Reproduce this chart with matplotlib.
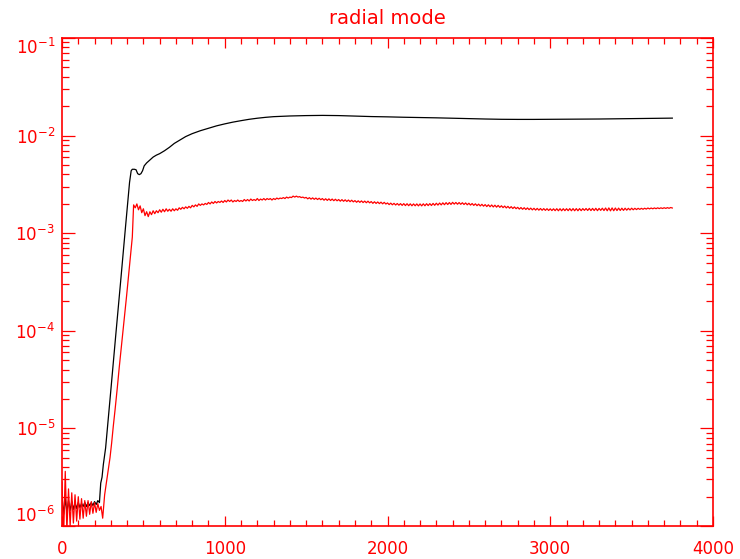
import numpy as np
import matplotlib
matplotlib.use("Agg")
import matplotlib.pyplot as plt
from matplotlib.ticker import MultipleLocator, LogLocator

# values, stored as log10 of the amplitude
black_t = [0, 10, 20, 30, 40, 50, 60, 70, 80, 90, 100, 110, 120, 130, 140, 150,
           160, 170, 180, 190, 200, 210, 220, 230, 238, 246, 254, 268, 300, 330,
           360, 390, 415, 425, 432, 445, 455, 465, 475, 485, 495, 505, 520, 540,
           560, 580, 600, 630, 660, 690, 720, 760, 800, 850, 900, 950, 1000, 1050,
           1100, 1150, 1200, 1250, 1300, 1400, 1500, 1600, 1700, 1800, 1900, 2000,
           2100, 2200, 2300, 2400, 2500, 2600, 2700, 2800, 2900, 3000, 3100, 3200,
           3300, 3400, 3500, 3600, 3700, 3750]
black_log = [-5.70, -5.88, -5.72, -5.86, -5.74, -5.84, -5.75, -5.83, -5.76, -5.82,
             -5.76, -5.81, -5.77, -5.80, -5.76, -5.80, -5.76, -5.79, -5.76, -5.79,
             -5.75, -5.78, -5.74, -5.76, -5.56, -5.50, -5.37, -5.20, -4.61, -4.05,
             -3.50, -2.94, -2.48, -2.36, -2.345, -2.345, -2.35, -2.39, -2.40, -2.39,
             -2.36, -2.31, -2.28, -2.25, -2.22, -2.20, -2.185, -2.155, -2.12, -2.08,
             -2.05, -2.01, -1.98, -1.95, -1.925, -1.90, -1.88, -1.862, -1.847, -1.833,
             -1.822, -1.813, -1.806, -1.799, -1.795, -1.793, -1.795, -1.80, -1.805,
             -1.808, -1.812, -1.815, -1.818, -1.822, -1.826, -1.83, -1.833, -1.834,
             -1.834, -1.833, -1.832, -1.831, -1.83, -1.828, -1.826, -1.824, -1.822,
             -1.821]

red_t_early = [0, 10, 20, 30, 40, 50, 60, 70, 80, 90, 100, 110, 120, 130, 140,
               150, 160, 170, 180, 190, 200, 210, 220, 230, 240, 250, 262, 280,
               295, 305, 315, 326, 340, 352, 375, 397, 415, 432]
red_log_early = [-5.55, -6.10, -5.44, -6.05, -5.62, -6.00, -5.66, -5.97, -5.68,
                 -5.95, -5.70, -5.93, -5.72, -5.92, -5.74, -5.90, -5.74, -5.88,
                 -5.75, -5.87, -5.76, -5.86, -5.77, -5.84, -5.80, -5.92, -5.68,
                 -5.47, -5.30, -5.15, -4.98, -4.81, -4.58, -4.37, -4.00, -3.64,
                 -3.33, -3.04]

# t = 440, 450, ..., 3750
red_t_late = np.arange(440, 3751, 10)
red_log_late = [
    -2.71, -2.74, -2.70, -2.76, -2.72, -2.79,
    -2.75, -2.82, -2.78, -2.83, -2.78, -2.81, -2.77, -2.80, -2.77, -2.79,
    -2.76, -2.785, -2.755, -2.78, -2.75, -2.775, -2.755, -2.775, -2.75, -2.77,
    -2.75, -2.765, -2.74, -2.755, -2.735, -2.75, -2.73, -2.745, -2.725, -2.74,
    -2.715, -2.73, -2.71, -2.725, -2.70, -2.715, -2.70, -2.71, -2.695, -2.705,
    -2.685, -2.70, -2.68, -2.695, -2.675, -2.69, -2.675, -2.685, -2.67, -2.685,
    -2.665, -2.68, -2.66, -2.675, -2.66, -2.68, -2.665, -2.675, -2.66, -2.675,
    -2.665, -2.675, -2.655, -2.67, -2.655, -2.67, -2.65, -2.665, -2.655, -2.665,
    -2.645, -2.665, -2.65, -2.66, -2.645, -2.66, -2.645, -2.655, -2.645, -2.66,
    -2.645, -2.655, -2.64, -2.65, -2.64, -2.645, -2.635, -2.645, -2.63, -2.64,
    -2.63, -2.635, -2.62, -2.63, -2.62, -2.63, -2.625, -2.635, -2.63, -2.64,
    -2.633, -2.648, -2.636, -2.651, -2.638, -2.653, -2.640, -2.655, -2.642, -2.657,
    -2.645, -2.662, -2.647, -2.664, -2.648, -2.665, -2.650, -2.667, -2.652, -2.668,
    -2.655, -2.672, -2.656, -2.673, -2.658, -2.675, -2.660, -2.677, -2.662, -2.679,
    -2.666, -2.683, -2.668, -2.684, -2.669, -2.686, -2.671, -2.688, -2.672, -2.689,
    -2.676, -2.694, -2.678, -2.695, -2.680, -2.697, -2.682, -2.699, -2.684, -2.701,
    -2.690, -2.707, -2.692, -2.709, -2.694, -2.711, -2.696, -2.713, -2.697, -2.715,
    -2.697, -2.717, -2.698, -2.718, -2.699, -2.719, -2.700, -2.719, -2.700, -2.720,
    -2.700, -2.720, -2.699, -2.719, -2.698, -2.717, -2.697, -2.716, -2.695, -2.714,
    -2.693, -2.712, -2.691, -2.710, -2.689, -2.708, -2.687, -2.706, -2.686, -2.705,
    -2.684, -2.702, -2.685, -2.703, -2.686, -2.704, -2.688, -2.706, -2.690, -2.709,
    -2.693, -2.712, -2.696, -2.715, -2.699, -2.718, -2.702, -2.721, -2.704, -2.723,
    -2.707, -2.727, -2.709, -2.729, -2.711, -2.731, -2.713, -2.733, -2.715, -2.735,
    -2.719, -2.738, -2.722, -2.741, -2.725, -2.744, -2.728, -2.747, -2.731, -2.749,
    -2.735, -2.753, -2.737, -2.755, -2.739, -2.757, -2.741, -2.759, -2.743, -2.761,
    -2.745, -2.763, -2.746, -2.764, -2.747, -2.765, -2.748, -2.766, -2.749, -2.767,
    -2.750, -2.768, -2.750, -2.769, -2.749, -2.770, -2.749, -2.770, -2.749, -2.769,
    -2.749, -2.769, -2.748, -2.770, -2.748, -2.770, -2.748, -2.770, -2.748, -2.769,
    -2.748, -2.766, -2.747, -2.767, -2.746, -2.768, -2.746, -2.768, -2.745, -2.769,
    -2.746, -2.766, -2.744, -2.768, -2.742, -2.770, -2.741, -2.771, -2.741, -2.770,
    -2.742, -2.768, -2.743, -2.767, -2.744, -2.766, -2.744, -2.764, -2.745, -2.762,
    -2.744, -2.760, -2.745, -2.758, -2.745, -2.756, -2.745, -2.755, -2.744, -2.753,
    -2.742, -2.751, -2.742, -2.750, -2.741, -2.749, -2.740, -2.748, -2.740, -2.747,
    -2.739, -2.746, -2.738, -2.745, -2.737, -2.742]

title = "radial mode"
axis_color = "#ff0000"

red_t = np.concatenate([red_t_early, red_t_late])
red_val = 10.0 ** np.array(red_log_early + red_log_late)
black_val = 10.0 ** np.array(black_log)

fig = plt.figure(figsize=(7.4, 5.59), dpi=100)
ax = fig.add_axes([62 / 740, 1 - 526 / 559, 651 / 740, 488 / 559])

ax.plot(black_t, black_val, color="black", lw=0.9)
ax.plot(red_t, red_val, color="red", lw=0.9)

ax.set_yscale("log")
ax.set_ylim(1e-6, 1e-1)
ax.set_xlim(0, 4000)
ax.xaxis.set_major_locator(MultipleLocator(1000))
ax.xaxis.set_minor_locator(MultipleLocator(100))
ax.yaxis.set_major_locator(LogLocator(base=10, numticks=10))
ax.yaxis.set_minor_locator(LogLocator(base=10, subs=np.arange(2, 10), numticks=20))

for s in ax.spines.values():
    s.set_color(axis_color)
    s.set_linewidth(1.2)
ax.tick_params(which="both", direction="in", top=True, right=True, color=axis_color,
               labelcolor=axis_color, labelsize=12, width=0.9)
ax.tick_params(axis="y", which="major", length=9.5, pad=5)
ax.tick_params(axis="y", which="minor", length=5)
ax.tick_params(axis="x", which="major", length=7.5, pad=10)
ax.tick_params(axis="x", which="minor", length=4)

ax.set_title(title, color=axis_color, fontsize=14, pad=10)

# IDL style: keep the end labels inside the axis range
fig.canvas.draw()
for tick in ax.yaxis.get_major_ticks():
    v = tick.get_loc()
    if np.isclose(v, 1e-6):
        tick.label1.set_verticalalignment("bottom")
    elif np.isclose(v, 1e-1):
        tick.label1.set_verticalalignment("top")

fig.savefig("out.png", dpi=100)
